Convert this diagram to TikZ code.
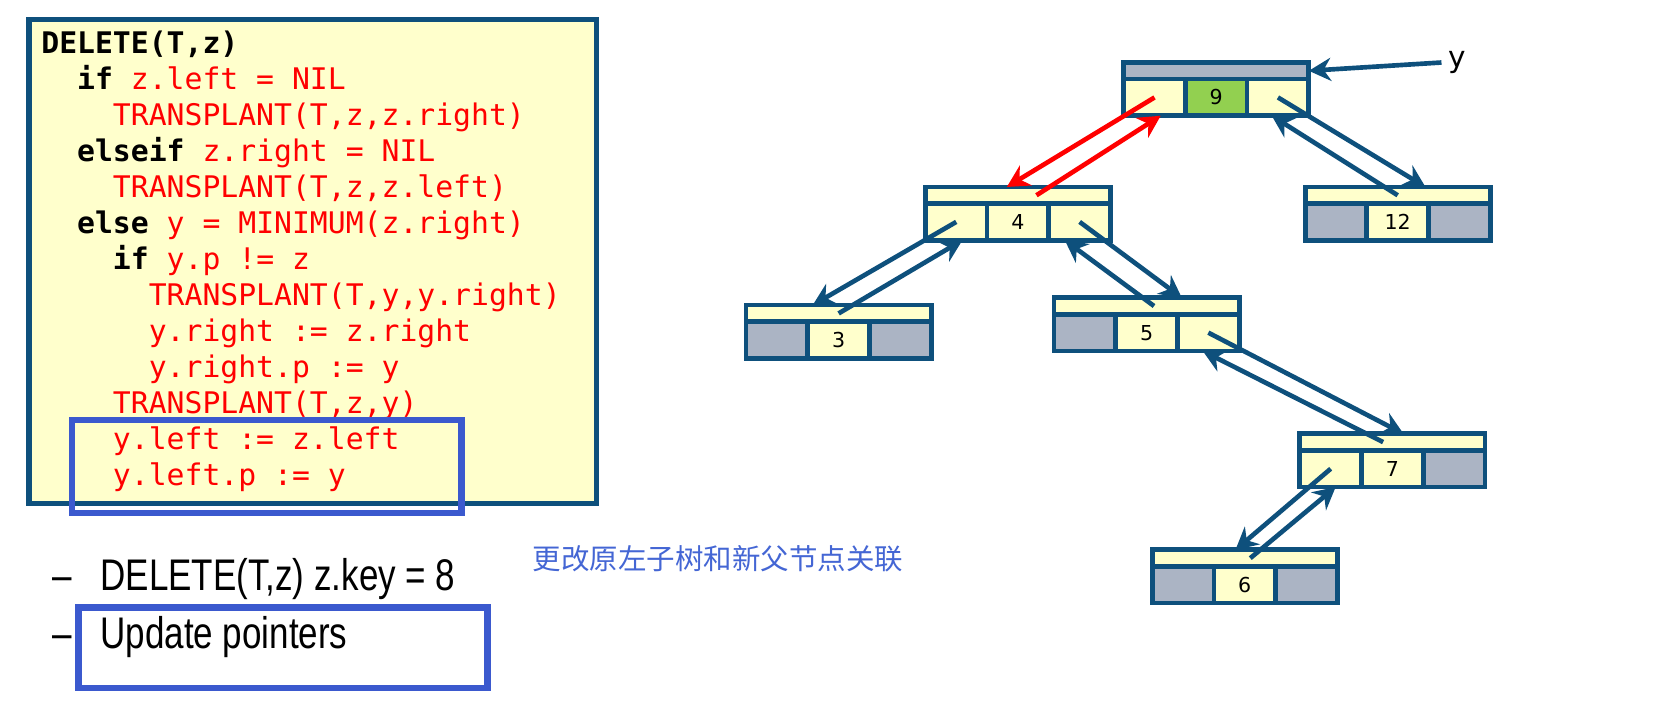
\documentclass[tikz,border=0pt]{standalone}
\usepackage{fontspec}
\setmainfont{DejaVu Sans}
\newfontfamily\codefont{DejaVu Sans Mono}
\newfontfamily\listfont[FakeStretch=0.79]{Liberation Sans}
\newfontfamily\cnfont{Noto Sans CJK SC}
\usetikzlibrary{positioning,calc,arrows.meta}

\definecolor{dkblue}{RGB}{14,80,124}
\definecolor{cyel}{RGB}{255,255,204}
\definecolor{cgray}{RGB}{171,180,196}
\definecolor{cgreen}{RGB}{146,208,80}
\definecolor{hlblue}{RGB}{59,89,206}
\definecolor{cnblue}{RGB}{68,102,212}
\newcommand{\kw}[1]{{\bfseries\color{black}#1}}
\newcommand{\ind}[1]{\hphantom{#1}}

\begin{document}
\begin{tikzpicture}[x=1pt, y=-1pt,
    cell/.style={draw=dkblue, line width=4.5pt, inner sep=0pt, outer sep=0pt, anchor=north west,
        minimum width=58.5, minimum height=34.75, font=\fontsize{19.5}{22}\selectfont},
    ptr/.style={draw=dkblue, line width=4.4pt, -{Stealth[length=21pt,width=22pt,inset=7pt]}},
    box/.style={draw=hlblue, line width=6pt, inner sep=0pt, outer sep=0pt, anchor=north west},
    codeline/.style={anchor=base west, inner sep=0pt, text=red, font=\codefont\fontsize{28.2}{34}\selectfont},
    listline/.style={anchor=base west, inner sep=0pt, font=\listfont\fontsize{42}{48}\selectfont}]
    \useasboundingbox (0,0) rectangle (1568,669);
    % pseudo code
    \node[draw=dkblue, fill=cyel, line width=5pt, inner sep=0pt, outer sep=0pt, anchor=north west,
        minimum width=538, minimum height=459] (codebg) at (27.5,18.5) {};
    \foreach \t [count=\i] in {
        {\kw{DELETE(T,z)}},
        {\ind{xx}\kw{if} z.left = NIL},
        {\ind{xxxx}TRANSPLANT(T,z,z.right)},
        {\ind{xx}\kw{elseif} z.right = NIL},
        {\ind{xxxx}TRANSPLANT(T,z,z.left)},
        {\ind{xx}\kw{else} y = MINIMUM(z.right)},
        {\ind{xxxx}\kw{if} y.p != z},
        {\ind{xxxxxx}TRANSPLANT(T,y,y.right)},
        {\ind{xxxxxx}y.right := z.right},
        {\ind{xxxxxx}y.right.p := y},
        {\ind{xxxx}TRANSPLANT(T,z,y)},
        {\ind{xxxx}y.left := z.left},
        {\ind{xxxx}y.left.p := y}}
        {
            \node[codeline] (c\i) at (39,16.9+34.1*\i) {\t};
        }
    \node[box, minimum width=369.5, minimum height=88.5] (hl1) at (68,398) {};
    % notes
    \node[listline] (d1) at (50,560) {–};
    \node[listline] (t1) at (95,560) {DELETE(T,z) z.key = 8};
    \node[listline] (d2) at (50,615) {–};
    \node[listline] (t2) at (95,615) {Update pointers};
    \node[box, minimum width=387.5, minimum height=76] (hl2) at (74.5,576) {};
    \node[anchor=base west, inner sep=0pt, text=cnblue, font=\cnfont\fontsize{27}{30}\selectfont] (cn) at (505,540) {更改原左子树和新父节点关联};
    % tree nodes: parent bar, left, key, right
    \foreach \nm/\x/\y/\k/\ct/\cl/\ck/\cr in {
        n9/1063/57/9/cgray/cyel/cgreen/cyel,
        n4/875/175/4/cyel/cyel/cyel/cyel,
        n12/1235/175/12/cyel/cgray/cyel/cgray,
        n3/705/287/3/cyel/cgray/cyel/cgray,
        n5/997/280/5/cyel/cgray/cyel/cyel,
        n7/1230/409/7/cyel/cyel/cyel/cgray,
        n6/1090/519/6/cyel/cgray/cyel/cgray}
        {
            \node[cell, fill=\ct, minimum width=175.5, minimum height=15.75] (\nm-p) at (\x+2.25,\y+2.25) {};
            \node[cell, fill=\cl] (\nm-l) at (\x+2.25,\y+18) {};
            \node[cell, fill=\ck] (\nm-k) at (\x+60.75,\y+18) {\k};
            \node[cell, fill=\cr] (\nm-r) at (\x+119.25,\y+18) {};
        }
    % pointer to y
    \node[anchor=base, inner sep=6pt, font=\fontsize{28}{32}\selectfont] (ylab) at (1381,64) {y};
    \draw[ptr] (ylab.west) -- (n9-p.east);
    % links
    \draw[ptr, draw=red] (n9-l.center) -- ($(n4-p.north west)!0.44!(n4-p.north east)$);
    \draw[ptr, draw=red] ($(n4-p.west)!0.6!(n4-p.east)$) -- ($(n9-l.south west)!0.6!(n9-l.south east)$);
    \draw[ptr] (n9-r.center) -- ($(n12-p.north west)!0.65!(n12-p.north east)$);
    \draw[ptr] (n12-p.center) -- ($(n9-r.south west)!0.4!(n9-r.south east)$);
    \draw[ptr] (n4-l.center) -- ($(n3-p.north west)!0.36!(n3-p.north east)$);
    \draw[ptr] (n3-p.center) -- ($(n4-l.south west)!0.6!(n4-l.south east)$);
    \draw[ptr] (n4-r.center) -- ($(n5-p.north west)!0.69!(n5-p.north east)$);
    \draw[ptr] ($(n5-p.west)!0.54!(n5-p.east)$) -- ($(n4-r.south west)!0.26!(n4-r.south east)$);
    \draw[ptr] (n5-r.center) -- ($(n7-p.north west)!0.56!(n7-p.north east)$);
    \draw[ptr] ($(n7-p.west)!0.45!(n7-p.east)$) -- ($(n5-r.south west)!0.41!(n5-r.south east)$);
    \draw[ptr] (n7-l.center) -- ($(n6-p.north west)!0.45!(n6-p.north east)$);
    \draw[ptr] ($(n6-p.west)!0.53!(n6-p.east)$) -- ($(n7-l.south west)!0.58!(n7-l.south east)$);
\end{tikzpicture}
\end{document}
